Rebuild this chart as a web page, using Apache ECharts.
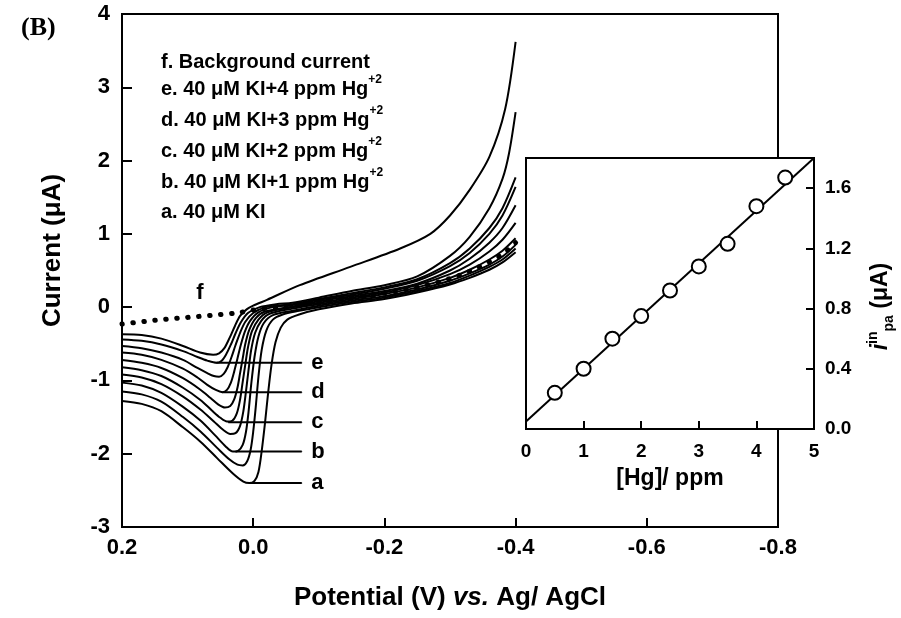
<!DOCTYPE html>
<html>
<head>
<meta charset="utf-8">
<script src="https://cdn.jsdelivr.net/npm/echarts@6/dist/echarts.min.js"></script>
<style>
html, body { margin: 0; padding: 0; background: #fff; }
#chart { width: 901px; height: 618px; }
</style>
</head>
<body>
<div id="chart"></div>
<script>
// linear sweeps, [potential V, current uA], one per Hg level
const curve0ppm = [[0.2,-1.28],[0.17,-1.32],[0.14,-1.42],[0.107,-1.64],[0.08,-1.84],[0.055,-2.06],[0.031,-2.27],[0.015,-2.38],[0.006,-2.40],[-0.002,-2.37],[-0.008,-2.25],[-0.013,-1.96],[-0.018,-1.58],[-0.023,-1.15],[-0.028,-0.78],[-0.034,-0.48],[-0.042,-0.28],[-0.052,-0.17],[-0.07,-0.10],[-0.1,-0.03],[-0.15,0.05],[-0.2,0.11],[-0.25,0.2],[-0.3,0.31],[-0.33,0.4],[-0.36,0.51],[-0.38,0.61],[-0.4,0.75]];
const curve05ppm = [[0.2,-1.15],[0.17,-1.19],[0.14,-1.29],[0.107,-1.50],[0.08,-1.70],[0.055,-1.92],[0.036,-2.08],[0.024,-2.15],[0.016,-2.16],[0.009,-2.10],[0.004,-1.95],[0.0,-1.70],[-0.004,-1.35],[-0.008,-0.95],[-0.013,-0.58],[-0.02,-0.32],[-0.03,-0.17],[-0.045,-0.10],[-0.07,-0.05],[-0.1,0.0],[-0.15,0.07],[-0.2,0.13],[-0.25,0.22],[-0.3,0.33],[-0.33,0.43],[-0.36,0.55],[-0.38,0.65],[-0.4,0.80]];
const curve1ppm = [[0.2,-1.03],[0.17,-1.07],[0.14,-1.17],[0.107,-1.36],[0.08,-1.55],[0.058,-1.75],[0.042,-1.90],[0.031,-1.97],[0.023,-1.96],[0.016,-1.88],[0.011,-1.70],[0.007,-1.42],[0.003,-1.05],[-0.002,-0.68],[-0.008,-0.40],[-0.016,-0.22],[-0.03,-0.11],[-0.06,-0.05],[-0.1,0.02],[-0.15,0.09],[-0.2,0.15],[-0.25,0.24],[-0.3,0.36],[-0.33,0.46],[-0.36,0.58],[-0.38,0.69],[-0.4,0.85]];
const curve15ppm = [[0.2,-0.92],[0.17,-0.96],[0.14,-1.05],[0.107,-1.22],[0.08,-1.40],[0.06,-1.56],[0.045,-1.68],[0.035,-1.73],[0.027,-1.72],[0.02,-1.62],[0.015,-1.42],[0.011,-1.15],[0.007,-0.85],[0.003,-0.58],[-0.003,-0.35],[-0.012,-0.19],[-0.025,-0.09],[-0.06,-0.02],[-0.1,0.04],[-0.15,0.11],[-0.2,0.18],[-0.25,0.27],[-0.3,0.40],[-0.33,0.51],[-0.36,0.65],[-0.38,0.77],[-0.4,0.94]];
const curve2ppm = [[0.2,-0.82],[0.17,-0.86],[0.14,-0.94],[0.107,-1.10],[0.08,-1.27],[0.063,-1.41],[0.05,-1.51],[0.04,-1.56],[0.032,-1.55],[0.025,-1.45],[0.02,-1.26],[0.016,-1.02],[0.012,-0.78],[0.008,-0.55],[0.002,-0.33],[-0.008,-0.17],[-0.022,-0.07],[-0.06,0.0],[-0.1,0.06],[-0.15,0.13],[-0.2,0.20],[-0.25,0.30],[-0.3,0.45],[-0.33,0.58],[-0.36,0.76],[-0.38,0.92],[-0.4,1.15]];
const curve25ppm = [[0.2,-0.72],[0.17,-0.76],[0.14,-0.83],[0.107,-0.97],[0.08,-1.13],[0.065,-1.24],[0.053,-1.33],[0.043,-1.37],[0.035,-1.35],[0.029,-1.26],[0.024,-1.10],[0.02,-0.90],[0.016,-0.70],[0.012,-0.50],[0.006,-0.31],[-0.004,-0.15],[-0.018,-0.06],[-0.06,0.01],[-0.1,0.08],[-0.15,0.15],[-0.2,0.22],[-0.25,0.32],[-0.3,0.50],[-0.33,0.66],[-0.36,0.88],[-0.38,1.08],[-0.4,1.39]];
const curve3ppm = [[0.2,-0.62],[0.17,-0.65],[0.14,-0.72],[0.107,-0.84],[0.085,-0.96],[0.07,-1.06],[0.057,-1.13],[0.047,-1.16],[0.04,-1.13],[0.034,-1.03],[0.029,-0.88],[0.024,-0.70],[0.019,-0.52],[0.013,-0.34],[0.005,-0.19],[-0.008,-0.07],[-0.03,0.0],[-0.06,0.03],[-0.1,0.10],[-0.15,0.17],[-0.2,0.25],[-0.25,0.36],[-0.3,0.56],[-0.33,0.74],[-0.36,1.0],[-0.38,1.25],[-0.4,1.64]];
const curve35ppm = [[0.2,-0.53],[0.17,-0.56],[0.14,-0.62],[0.107,-0.72],[0.085,-0.83],[0.07,-0.90],[0.06,-0.94],[0.052,-0.95],[0.045,-0.91],[0.039,-0.82],[0.033,-0.68],[0.027,-0.52],[0.02,-0.35],[0.012,-0.20],[0.0,-0.08],[-0.02,0.0],[-0.06,0.04],[-0.1,0.11],[-0.15,0.19],[-0.2,0.27],[-0.25,0.38],[-0.3,0.60],[-0.33,0.80],[-0.36,1.08],[-0.38,1.35],[-0.4,1.77]];
const curve4ppm = [[0.2,-0.44],[0.17,-0.46],[0.14,-0.51],[0.107,-0.60],[0.085,-0.68],[0.07,-0.73],[0.056,-0.76],[0.048,-0.73],[0.041,-0.64],[0.034,-0.51],[0.027,-0.36],[0.019,-0.21],[0.008,-0.08],[-0.01,0.0],[-0.035,0.04],[-0.06,0.06],[-0.1,0.13],[-0.15,0.22],[-0.2,0.30],[-0.25,0.42],[-0.3,0.70],[-0.33,0.96],[-0.36,1.35],[-0.38,1.75],[-0.39,2.1],[-0.4,2.66]];
const curve45ppm = [[0.2,-0.37],[0.17,-0.38],[0.14,-0.43],[0.107,-0.53],[0.081,-0.62],[0.061,-0.65],[0.052,-0.63],[0.044,-0.56],[0.036,-0.42],[0.028,-0.26],[0.02,-0.12],[0.01,-0.03],[0.0,0.02],[-0.021,0.10],[-0.071,0.30],[-0.148,0.55],[-0.224,0.80],[-0.27,1.0],[-0.30,1.25],[-0.33,1.6],[-0.36,2.05],[-0.384,2.7],[-0.4,3.62]];
const background = [[0.2,-0.23],[0.15,-0.18],[0.1,-0.14],[0.05,-0.10],[0.025,-0.08],[0.0,-0.04],[-0.05,0.02],[-0.1,0.07],[-0.15,0.13],[-0.2,0.19],[-0.25,0.27],[-0.3,0.39],[-0.33,0.49],[-0.36,0.62],[-0.38,0.72],[-0.4,0.88]];

// pointer lines to the peaks, [letter, from peak, to end]
const peakLetters = ['e', 'd', 'c', 'b', 'a'];
const peakStart = [[0.056,-0.76],[0.047,-1.16],[0.038,-1.57],[0.027,-1.97],[0.006,-2.40]];
const peakEndV = -0.074;

// inset: calibration
const hgPpm = [0.5, 1, 1.5, 2, 2.5, 3, 3.5, 4, 4.5];
const ipa = [0.24, 0.40, 0.60, 0.75, 0.92, 1.08, 1.23, 1.48, 1.67];
const fitLine = [[0, 0.05], [5, 1.8]];

const legendLines = [
    ['f. Background current', ''],
    ['e. 40 μM KI+4 ppm Hg', '+2'],
    ['d. 40 μM KI+3 ppm Hg', '+2'],
    ['c. 40 μM KI+2 ppm Hg', '+2'],
    ['b. 40 μM KI+1 ppm Hg', '+2'],
    ['a. 40 μM KI', '']
];
const legendY = [62, 89, 120, 151, 182, 212];

const FONT = "'Liberation Sans', Arial, sans-serif";
const chart = echarts.init(document.getElementById('chart'));

const curves = [curve0ppm, curve05ppm, curve1ppm, curve15ppm, curve2ppm, curve25ppm, curve3ppm, curve35ppm, curve4ppm, curve45ppm];
const series = [{
    type: 'line', xAxisIndex: 0, yAxisIndex: 0, data: background,
    showSymbol: false, smooth: 0.3, silent: true, z: 1,
    lineStyle: { color: '#000', width: 5, type: [0.5, 10.5], cap: 'round' }
}];
curves.forEach(d => series.push({
    type: 'line', xAxisIndex: 0, yAxisIndex: 0, data: d,
    showSymbol: false, smooth: 0.3, silent: true,
    lineStyle: { color: '#000', width: 2 }
}));

peakLetters.forEach((l, i) => {
    series.push({
        type: 'line', xAxisIndex: 0, yAxisIndex: 0,
        data: [peakStart[i], {
            value: [peakEndV, peakStart[i][1]],
            label: {
                show: true, position: 'right', distance: 9, formatter: l, color: '#000',
                fontFamily: FONT, fontWeight: 'bold', fontSize: 22
            }
        }],
        showSymbol: true, symbol: 'circle', symbolSize: 1, silent: true,
        itemStyle: { color: '#000' },
        lineStyle: { color: '#000', width: 2 }
    });
});

series.push({
    type: 'line', xAxisIndex: 1, yAxisIndex: 1, data: fitLine, z: 7,
    showSymbol: false, silent: true,
    lineStyle: { color: '#000', width: 2 }
});
series.push({
    type: 'scatter', xAxisIndex: 1, yAxisIndex: 1, z: 8,
    data: hgPpm.map((x, i) => [x, ipa[i]]),
    symbol: 'circle', symbolSize: 14, silent: true,
    itemStyle: { color: '#fff', borderColor: '#000', borderWidth: 2, opacity: 1 }
});

const graphic = legendLines.map((l, i) => ({
    type: 'text', x: 161, y: legendY[i],
    style: {
        text: '{n|' + l[0] + '}' + (l[1] ? '{s|' + l[1] + '}' : ''),
        verticalAlign: 'middle', align: 'left',
        rich: {
            n: { fontFamily: FONT, fontWeight: 'bold', fontSize: 20, lineHeight: 30, fill: '#000' },
            s: { fontFamily: FONT, fontWeight: 'bold', fontSize: 12, lineHeight: 14, verticalAlign: 'top', fill: '#000' }
        }
    }
}));
graphic.push({
    type: 'text', x: 200, y: 293,
    style: { text: 'f', fontFamily: FONT, fontWeight: 'bold', fontSize: 22, fill: '#000', align: 'center', verticalAlign: 'middle' }
});

const axisText = { color: '#000', fontFamily: FONT, fontWeight: 'bold' };

const option = {
    animation: false,
    backgroundColor: '#fff',
    textStyle: { fontFamily: FONT },
    title: {
        text: '(B)', left: 16, top: 10,
        textStyle: { fontFamily: "'Liberation Serif', 'Times New Roman', serif", fontWeight: 'bold', fontSize: 26, color: '#000' }
    },
    grid: [
        { left: 122, right: 123, top: 14, bottom: 91, show: true, borderColor: '#000', borderWidth: 2 },
        { left: 526, right: 87, top: 158, bottom: 189, show: true, borderColor: '#000', borderWidth: 2, backgroundColor: '#fff', z: 5 }
    ],
    xAxis: [
        {
            type: 'value', gridIndex: 0, min: -0.8, max: 0.2, interval: 0.2, inverse: true,
            axisLine: { onZero: false, lineStyle: { color: '#000', width: 2 } },
            axisTick: { inside: true, length: 9, lineStyle: { color: '#000', width: 2 } },
            splitLine: { show: false },
            axisLabel: Object.assign({ fontSize: 22, margin: 10, formatter: v => Math.abs(v) < 1e-9 ? '0.0' : v.toFixed(1) }, axisText),
            name: 'Potential (V) {it|vs.} Ag/ AgCl', nameLocation: 'middle', nameGap: 58,
            nameTextStyle: Object.assign({ fontSize: 26, rich: { it: Object.assign({ fontSize: 26, fontStyle: 'italic' }, axisText) } }, axisText)
        },
        {
            type: 'value', gridIndex: 1, min: 0, max: 5, interval: 1, z: 6,
            axisLine: { onZero: false, lineStyle: { color: '#000', width: 2 } },
            axisTick: { inside: true, length: 8, lineStyle: { color: '#000', width: 2 } },
            splitLine: { show: false },
            axisLabel: Object.assign({ fontSize: 19, margin: 13 }, axisText),
            name: '[Hg]/ ppm', nameLocation: 'middle', nameGap: 38,
            nameTextStyle: Object.assign({ fontSize: 23 }, axisText)
        }
    ],
    yAxis: [
        {
            type: 'value', gridIndex: 0, min: -3, max: 4, interval: 1,
            axisLine: { onZero: false, lineStyle: { color: '#000', width: 2 } },
            axisTick: { inside: true, length: 10, lineStyle: { color: '#000', width: 2 } },
            splitLine: { show: false },
            axisLabel: Object.assign({ fontSize: 22, margin: 12 }, axisText),
            name: 'Current (μA)', nameLocation: 'middle', nameGap: 56, nameRotate: 90,
            nameTextStyle: Object.assign({ fontSize: 26, padding: [0, 0, 0, 40] }, axisText)
        },
        {
            type: 'value', gridIndex: 1, min: 0, max: 1.8, interval: 0.4, position: 'right', z: 6,
            axisLine: { onZero: false, lineStyle: { color: '#000', width: 2 } },
            axisTick: { inside: true, length: 8, lineStyle: { color: '#000', width: 2 } },
            splitLine: { show: false },
            axisLabel: Object.assign({ fontSize: 19, margin: 11, showMaxLabel: false, formatter: v => v.toFixed(1) }, axisText),
            name: '{i|i}{sup|in}{sub|pa}{t| (μA)}', nameLocation: 'middle', nameGap: 52, nameRotate: 90,
            nameTextStyle: Object.assign({
                padding: [0, 26, 0, 0],
                rich: {
                    i: Object.assign({ fontSize: 23, fontStyle: 'italic', lineHeight: 30 }, axisText),
                    sup: Object.assign({ fontSize: 14, lineHeight: 16, verticalAlign: 'top' }, axisText),
                    sub: Object.assign({ fontSize: 14, lineHeight: 16, verticalAlign: 'bottom' }, axisText),
                    t: Object.assign({ fontSize: 23 }, axisText)
                }
            }, axisText)
        }
    ],
    graphic: graphic,
    series: series
};
chart.setOption(option);
</script>
</body>
</html>
